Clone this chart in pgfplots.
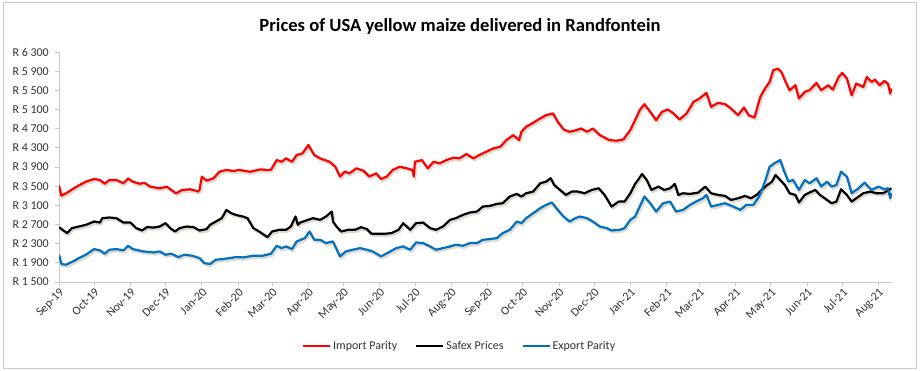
\documentclass[border=0pt]{standalone}
\usepackage{fontspec}
\setmainfont{Carlito}
\usepackage{pgfplots}
\usepackage{pgfplotstable}
\pgfplotsset{compat=1.18}
\definecolor{impred}{RGB}{255,0,0}
\definecolor{expblue}{RGB}{0,112,192}
\definecolor{axgray}{RGB}{200,200,200}
\definecolor{txtgray}{RGB}{50,50,50}
\definecolor{shadowc}{RGB}{160,150,120}

\pgfplotstableread{
day val
0 3512
2 3303
6 3350
15 3490
23 3595
30 3650
35 3630
39 3550
43 3630
49 3630
55 3560
59 3660
63 3595
69 3550
73 3570
78 3490
86 3455
92 3490
96 3420
100 3350
105 3420
112 3435
119 3390
120 3420
122 3700
126 3615
132 3665
137 3800
143 3840
149 3815
154 3840
163 3800
172 3850
177 3840
181 3840
186 4045
190 4010
194 4080
199 4010
203 4150
208 4185
213 4360
218 4150
223 4080
227 4045
231 4010
236 3907
240 3700
244 3803
248 3768
254 3872
260 3824
265 3700
271 3768
275 3650
280 3700
285 3837
291 3907
297 3872
302 3837
303 3700
304 4010
310 4045
315 3872
320 4010
325 3976
331 4045
337 4094
342 4080
348 4170
354 4080
359 4150
365 4219
371 4288
377 4323
382 4462
388 4565
393 4462
395 4635
399 4740
405 4822
411 4913
416 4982
422 5017
426 4843
431 4684
436 4635
442 4670
446 4704
451 4635
456 4704
462 4565
470 4462
476 4448
482 4475
488 4670
492 4878
496 5086
500 5211
505 5051
510 4878
515 5051
520 5100
525 5017
530 4892
536 5017
542 5260
547 5329
553 5447
557 5156
563 5239
569 5211
574 5121
580 4982
585 5142
589 4982
594 4933
599 5363
603 5537
607 5676
610 5918
614 5953
617 5884
620 5710
624 5502
629 5606
632 5329
637 5468
641 5502
647 5655
651 5502
657 5606
661 5516
666 5780
669 5863
673 5745
677 5398
681 5641
687 5571
690 5780
694 5676
697 5724
701 5606
705 5696
708 5641
710 5433
711 5537
}\importdata

\pgfplotstableread{
day val
0 2644
3 2589
7 2520
11 2624
17 2658
23 2693
30 2762
35 2741
37 2832
43 2846
49 2832
55 2741
61 2741
66 2624
71 2575
75 2644
81 2637
86 2658
91 2728
95 2624
99 2554
103 2624
109 2658
115 2644
120 2575
126 2603
129 2693
134 2762
139 2832
143 3005
147 2936
151 2901
157 2866
161 2832
166 2624
171 2554
178 2436
182 2554
188 2589
194 2589
198 2658
202 2866
204 2693
206 2740
211 2783
217 2832
223 2797
228 2866
233 2970
234 2762
237 2658
241 2554
247 2589
253 2589
258 2644
263 2603
267 2506
273 2506
278 2506
284 2520
290 2589
294 2728
300 2589
305 2728
311 2741
317 2624
322 2589
328 2658
334 2797
339 2832
345 2901
351 2950
357 2970
362 3074
368 3088
374 3130
379 3144
385 3283
391 3338
395 3283
399 3352
405 3387
411 3560
416 3595
420 3664
423 3525
428 3421
433 3317
438 3387
443 3387
449 3352
455 3421
461 3456
466 3317
472 3074
478 3178
483 3178
488 3352
492 3546
495 3643
498 3754
502 3629
506 3421
512 3491
517 3421
522 3456
526 3546
529 3317
533 3352
539 3338
546 3366
552 3491
557 3352
563 3317
569 3296
574 3213
580 3248
586 3296
591 3248
596 3317
600 3421
604 3505
609 3595
612 3733
616 3629
620 3525
624 3352
629 3317
632 3158
637 3317
641 3366
646 3421
650 3317
656 3213
660 3144
664 3178
668 3435
673 3317
677 3178
681 3248
687 3352
693 3387
698 3352
704 3352
708 3408
711 3456
}\safexdata

\pgfplotstableread{
day val
0 2069
2 1875
6 1861
12 1930
17 1999
23 2069
30 2187
35 2159
39 2090
43 2173
49 2187
55 2159
59 2256
63 2187
72 2138
81 2117
86 2138
91 2069
96 2090
102 2020
107 2069
114 2048
120 1999
124 1895
129 1875
134 1965
140 1979
146 1999
151 2020
157 2013
166 2048
174 2048
181 2090
186 2256
190 2207
194 2242
199 2187
203 2346
210 2416
214 2554
218 2381
223 2381
228 2312
234 2346
240 2034
245 2138
251 2173
257 2207
263 2173
268 2138
275 2034
283 2138
288 2207
294 2242
300 2173
305 2325
311 2312
317 2242
322 2173
328 2207
334 2242
339 2277
345 2256
351 2312
357 2312
362 2381
368 2395
374 2416
379 2520
385 2589
391 2762
395 2728
399 2832
405 2936
411 3040
416 3109
421 3158
426 3005
431 2866
436 2762
441 2832
445 2866
451 2832
456 2762
462 2658
468 2624
472 2575
479 2589
483 2624
488 2797
492 2866
496 3074
500 3283
505 3144
510 2970
516 3144
522 3178
527 2970
533 3005
539 3109
544 3178
550 3248
553 3317
557 3074
563 3109
569 3144
576 3074
582 3005
587 3109
593 3109
598 3283
603 3595
607 3907
611 3976
616 4045
619 3837
623 3595
627 3629
632 3421
637 3629
641 3560
647 3664
651 3491
656 3595
660 3491
664 3525
668 3802
673 3698
677 3352
683 3456
688 3574
694 3421
700 3491
705 3435
708 3456
710 3248
711 3352
}\exportdata

\begin{document}
\begin{tikzpicture}
\useasboundingbox (0,0) rectangle (922pt,371pt);
\draw[axgray, line width=0.8pt] (3pt,3pt) rectangle (916pt,369pt);
\node[anchor=base, font=\fontsize{18.6}{20}\selectfont\bfseries] at (460pt,339.5pt) {Prices of USA yellow maize delivered in Randfontein};
\begin{axis}[
  at={(59pt,89pt)}, anchor=south west,
  scale only axis, width=833pt, height=230pt,
  xmin=0, xmax=711.5, ymin=1500, ymax=6300,
  axis lines*=left,
  axis line style={axgray, line width=0.8pt},
  xtick={0,30,61,91,122,153,182,213,243,274,304,335,366,396,427,457,488,519,547,578,608,639,669,700},
  xticklabels={Sep-19,Oct-19,Nov-19,Dec-19,Jan-20,Feb-20,Mar-20,Apr-20,May-20,Jun-20,Jul-20,Aug-20,Sep-20,Oct-20,Nov-20,Dec-20,Jan-21,Feb-21,Mar-21,Apr-21,May-21,Jun-21,Jul-21,Aug-21},
  ytick={1500,1900,2300,2700,3100,3500,3900,4300,4700,5100,5500,5900,6300},
  yticklabels={R 1 500,R 1 900,R 2 300,R 2 700,R 3 100,R 3 500,R 3 900,R 4 300,R 4 700,R 5 100,R 5 500,R 5 900,R 6 300},
  tick align=outside, major tick length=4pt,
  tick style={axgray, line width=0.8pt},
  ticklabel style={font=\fontsize{12}{13}\selectfont, text=txtgray},
  xticklabel style={rotate=45, anchor=north east, inner sep=1pt},
  yticklabel style={inner sep=2pt, xshift=-4pt},
  legend columns=3,
  legend style={at={(0.481,-0.278)}, anchor=center, draw=none, fill=none,
    font=\fontsize{12}{13}\selectfont, text=txtgray,
    /tikz/every even column/.append style={column sep=16pt},
    inner sep=0pt},
  legend image code/.code={\draw[#1, line width=2pt] (0pt,0pt) -- (27pt,0pt);},
  every axis plot/.append style={line join=round},
]
\addplot[forget plot, draw=shadowc, opacity=0.35, line width=2.8pt, xshift=1.2pt, yshift=-1.8pt] table[x=day,y=val] {\importdata};
\addplot[forget plot, draw=shadowc, opacity=0.35, line width=2.8pt, xshift=1.2pt, yshift=-1.8pt] table[x=day,y=val] {\safexdata};
\addplot[forget plot, draw=shadowc, opacity=0.35, line width=2.8pt, xshift=1.2pt, yshift=-1.8pt] table[x=day,y=val] {\exportdata};
\addplot[impred, line width=2.2pt] table[x=day,y=val] {\importdata};
\addlegendentry{Import Parity}
\addplot[black, line width=2.2pt] table[x=day,y=val] {\safexdata};
\addlegendentry{Safex Prices}
\addplot[expblue, line width=2.2pt] table[x=day,y=val] {\exportdata};
\addlegendentry{Export Parity}
\end{axis}
\end{tikzpicture}
\end{document}
